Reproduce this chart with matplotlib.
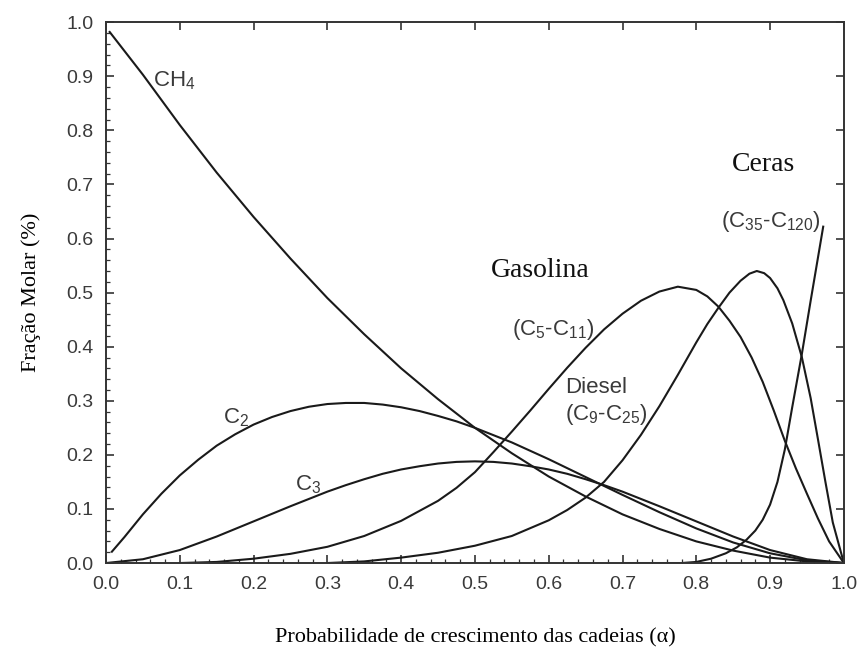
import matplotlib
matplotlib.use("Agg")
import matplotlib.pyplot as plt
from matplotlib.ticker import MultipleLocator

plt.rcParams["font.family"] = ["Liberation Sans", "DejaVu Sans"]
plt.rcParams["mathtext.default"] = "regular"

# Chain growth probability (alpha) and molar fractions of each product cut
alpha_ch4 = [0.005, 0.05, 0.10, 0.15, 0.20, 0.25, 0.30, 0.35, 0.40, 0.45, 0.50,
             0.55, 0.60, 0.65, 0.70, 0.75, 0.80, 0.85, 0.90, 0.95, 1.00]
ch4 = [0.982, 0.903, 0.810, 0.722, 0.640, 0.563, 0.490, 0.423, 0.360, 0.303, 0.250,
       0.203, 0.160, 0.123, 0.090, 0.063, 0.040, 0.023, 0.010, 0.003, 0.0]

alpha_c2 = [0.008, 0.025, 0.05, 0.075, 0.10, 0.125, 0.15, 0.175, 0.20, 0.225, 0.25,
            0.275, 0.30, 0.325, 0.35, 0.375, 0.40, 0.425, 0.45, 0.475, 0.50,
            0.55, 0.60, 0.65, 0.70, 0.75, 0.80, 0.85, 0.90, 0.95, 1.00]
c2 = [0.021, 0.048, 0.090, 0.128, 0.162, 0.191, 0.217, 0.238, 0.256, 0.270, 0.281,
      0.289, 0.294, 0.296, 0.296, 0.293, 0.288, 0.281, 0.272, 0.262, 0.250,
      0.223, 0.192, 0.159, 0.126, 0.094, 0.064, 0.038, 0.018, 0.005, 0.0]

alpha_c3 = [0.00, 0.05, 0.10, 0.15, 0.20, 0.25, 0.30, 0.325, 0.35, 0.375, 0.40, 0.425,
            0.45, 0.475, 0.50, 0.525, 0.55, 0.575, 0.60, 0.625, 0.65, 0.675, 0.70,
            0.75, 0.80, 0.85, 0.90, 0.95, 1.00]
c3 = [0.0, 0.007, 0.024, 0.049, 0.077, 0.105, 0.132, 0.144, 0.155, 0.165, 0.173, 0.179,
      0.184, 0.187, 0.188, 0.187, 0.184, 0.179, 0.173, 0.165, 0.155, 0.144, 0.132,
      0.105, 0.077, 0.049, 0.024, 0.007, 0.0]

alpha_gas = [0.10, 0.15, 0.20, 0.25, 0.30, 0.35, 0.40, 0.45, 0.475, 0.50, 0.525,
             0.55, 0.575, 0.60, 0.625, 0.65, 0.675, 0.70, 0.725, 0.75, 0.775, 0.80,
             0.815, 0.83, 0.845, 0.86, 0.875, 0.89, 0.905, 0.92, 0.935, 0.95, 0.965,
             0.98, 1.00]
gasolina = [0.0, 0.002, 0.008, 0.017, 0.030, 0.050, 0.078, 0.115, 0.139, 0.168, 0.205,
            0.243, 0.282, 0.322, 0.361, 0.398, 0.432, 0.461, 0.485, 0.502, 0.511, 0.505,
            0.493, 0.474, 0.448, 0.418, 0.380, 0.335, 0.282, 0.226, 0.175, 0.128, 0.082,
            0.040, 0.0]

alpha_dies = [0.30, 0.35, 0.40, 0.45, 0.50, 0.55, 0.60, 0.625, 0.65, 0.675, 0.70,
              0.725, 0.75, 0.775, 0.80, 0.815, 0.83, 0.845, 0.86, 0.872, 0.882, 0.892,
              0.90, 0.91, 0.918, 0.93, 0.943, 0.955, 0.965, 0.975, 0.985, 1.00]
diesel = [0.0, 0.003, 0.010, 0.019, 0.032, 0.050, 0.079, 0.098, 0.121, 0.150, 0.190,
          0.237, 0.290, 0.348, 0.408, 0.442, 0.472, 0.500, 0.522, 0.535, 0.540, 0.536,
          0.527, 0.508, 0.486, 0.443, 0.381, 0.305, 0.228, 0.150, 0.075, 0.0]

alpha_ceras = [0.70, 0.78, 0.80, 0.82, 0.84, 0.855, 0.868, 0.88, 0.89, 0.90, 0.91,
               0.92, 0.93, 0.943, 0.955, 0.972]
ceras = [0.0, 0.0, 0.002, 0.008, 0.018, 0.029, 0.043, 0.060, 0.080, 0.108, 0.150,
         0.210, 0.288, 0.386, 0.485, 0.622]

x_ticks = [0.0, 0.1, 0.2, 0.3, 0.4, 0.5, 0.6, 0.7, 0.8, 0.9, 1.0]
y_ticks = [0.0, 0.1, 0.2, 0.3, 0.4, 0.5, 0.6, 0.7, 0.8, 0.9, 1.0]

fig = plt.figure(figsize=(8.61, 6.5), dpi=100)
ax = fig.add_axes([0.1231, 0.1338, 0.857, 0.832])

line_kw = dict(color="#1a1a1a", lw=1.5, solid_joinstyle="round")
for xs, ys in [(alpha_ch4, ch4), (alpha_c2, c2), (alpha_c3, c3),
               (alpha_gas, gasolina), (alpha_dies, diesel), (alpha_ceras, ceras)]:
    ax.plot(xs, ys, **line_kw)

ax.set_xlim(0, 1.0)
ax.set_ylim(0, 1.0)
ax.set_xticks(x_ticks)
ax.set_yticks(y_ticks)
ax.set_xticklabels([f"{v:.1f}" for v in x_ticks])
ax.set_yticklabels([f"{v:.1f}" for v in y_ticks])
ax.xaxis.set_minor_locator(MultipleLocator(0.02))
ax.yaxis.set_minor_locator(MultipleLocator(0.02))
ax.tick_params(which="both", direction="in", colors="#333333",
               labelcolor="#3a3a3a", labelsize=14)
ax.tick_params(which="major", length=6, width=1.2, top=True, right=True)
ax.tick_params(which="minor", length=3, width=0.9, top=False, right=False)
ax.tick_params(axis="x", pad=9)
ax.tick_params(axis="y", pad=9)
for sp in ax.spines.values():
    sp.set_linewidth(1.4)
    sp.set_color("#333333")

serif = ["Liberation Serif", "DejaVu Serif"]
ax.set_xlabel("Probabilidade de crescimento das cadeias (α)", family=serif,
              fontsize=16, labelpad=26)
ax.set_ylabel("Fração Molar (%)", family=serif, fontsize=16, labelpad=18)

sans_kw = dict(color="#3a3a3a", fontsize=16)
ax.text(0.064, 0.882, "CH$_4$", **sans_kw)
ax.text(0.158, 0.258, "C$_2$", **sans_kw)
ax.text(0.256, 0.135, "C$_3$", **sans_kw)
ax.text(0.55, 0.421, "(C$_5$-C$_{11}$)", **sans_kw)
ax.text(0.622, 0.314, "Diesel", **sans_kw)
ax.text(0.622, 0.264, "(C$_9$-C$_{25}$)", **sans_kw)
ax.text(0.834, 0.622, "(C$_{35}$-C$_{120}$)", **sans_kw)

ax.text(0.589, 0.529, "Gasolina", family=serif, fontsize=20, ha="center", color="#111111")
ax.text(0.848, 0.725, "Ceras", family=serif, fontsize=20, color="#111111")

fig.savefig("out.png", dpi=100)
